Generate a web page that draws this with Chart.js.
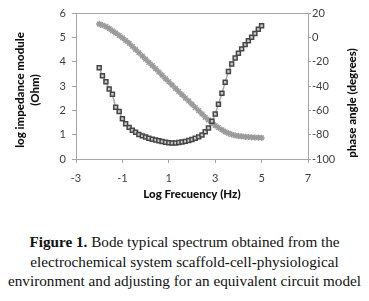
<!DOCTYPE html>
<html>
<head>
<meta charset="utf-8">
<script src="https://cdn.jsdelivr.net/npm/chart.js@4"></script>
<style>
  html, body { margin: 0; padding: 0; background: #fff; }
  body { width: 369px; height: 301px; overflow: hidden; position: relative; }
  #wrap { position: absolute; left: 0; top: 0; width: 369px; height: 205px; }
  #caption {
    position: absolute; left: 0; top: 232px; width: 369px;
    text-align: center; font-family: "Liberation Serif", "Times New Roman", serif;
    font-size: 15.2px; line-height: 19.7px; color: #111; white-space: nowrap;
  }
</style>
</head>
<body>
<div id="wrap"><canvas id="chart" width="369" height="205"></canvas></div>
<div id="caption">
  <b>Figure 1.</b> Bode typical spectrum obtained from the<br>
  electrochemical system scaffold-cell-physiological<br>
  environment and adjusting for an equivalent circuit model
</div>
<script>
// log of frequency (Hz), one value per measured point
const logFreq = [
  -2, -1.86, -1.71, -1.57, -1.43, -1.29, -1.14, -1, -0.86, -0.71,
  -0.57, -0.43, -0.29, -0.14, 0, 0.14, 0.29, 0.43, 0.57, 0.71,
  0.86, 1, 1.14, 1.29, 1.43, 1.57, 1.71, 1.86, 2, 2.14,
  2.29, 2.43, 2.57, 2.71, 2.86, 3, 3.14, 3.29, 3.43, 3.57,
  3.71, 3.86, 4, 4.14, 4.29, 4.43, 4.57, 4.71, 4.86, 5
];

// log impedance module (Ohm) - left axis
const logImpedance = [
  5.55, 5.5, 5.44, 5.36, 5.27, 5.18, 5.08, 4.98, 4.87, 4.76,
  4.63, 4.5, 4.37, 4.23, 4.1, 3.97, 3.84, 3.71, 3.58, 3.44,
  3.3, 3.17, 3.04, 2.9, 2.77, 2.64, 2.51, 2.38, 2.25, 2.12,
  1.98, 1.85, 1.72, 1.6, 1.48, 1.38, 1.29, 1.2, 1.12, 1.06,
  1.01, 0.97, 0.95, 0.93, 0.91, 0.9, 0.89, 0.88, 0.88, 0.87
];

// phase angle (degrees) - right axis
const phaseAngle = [
  -25, -31.5, -36.5, -42.5, -46.8, -57.5, -61, -67, -71, -74,
  -76.3, -78, -79.8, -81, -82, -83, -83.8, -84.4, -85, -85.6,
  -86.2, -86.6, -86.8, -86.8, -86.5, -86, -85.5, -84.8, -84, -83,
  -81.8, -80.2, -77.6, -74.5, -69, -63, -55, -46, -37, -28,
  -22, -17, -13, -9.5, -6, -2.8, 0, 3.2, 6.6, 9.5
];

const leftTitle = ["log impedance module", "(Ohm)"];
const rightTitle = "phase angle (degrees)";
const xTitle = "Log Frecuency (Hz)";

const tickFont = { family: "Lato, 'Open Sans', sans-serif", size: 11 };
const titleFont = "900 11.5px Lato, 'Open Sans', sans-serif";
const axisGray = "#a6a6a6";
const textGray = "#404040";

const toPoints = ys => logFreq.map((x, i) => ({ x: x, y: ys[i] }));

// frame line on top of the plot area + the axis titles
const framePlugin = {
  id: "frame",
  afterDraw(chart) {
    const { ctx, chartArea: a } = chart;
    ctx.save();
    ctx.strokeStyle = axisGray;
    ctx.lineWidth = 1;
    ctx.beginPath();
    ctx.moveTo(a.left, a.top + 0.5);
    ctx.lineTo(a.right, a.top + 0.5);
    ctx.stroke();

    ctx.fillStyle = "#111";
    ctx.font = titleFont;
    ctx.textAlign = "center";
    ctx.textBaseline = "middle";

    ctx.save();
    ctx.translate(20, 90);
    ctx.rotate(-Math.PI / 2);
    ctx.fillText(leftTitle[0], 0, 0);
    ctx.fillText(leftTitle[1], 0, 15);
    ctx.restore();

    ctx.save();
    ctx.translate(352, 103);
    ctx.rotate(-Math.PI / 2);
    ctx.fillText(rightTitle, 0, 0);
    ctx.restore();

    ctx.fillText(xTitle, 192, 194);
    ctx.restore();
  },
};

new Chart(document.getElementById("chart"), {
  type: "scatter",
  data: {
    datasets: [
      {
        label: "phase angle",
        data: toPoints(phaseAngle),
        yAxisID: "y1",
        showLine: true,
        borderColor: "#a8a8a8",
        borderWidth: 1.5,
        pointStyle: "rect",
        pointRadius: 2.8,
        pointBorderWidth: 1.5,
        pointBorderColor: "#464646",
        pointBackgroundColor: "#c9c9c9",
      },
      {
        label: "log impedance",
        data: toPoints(logImpedance),
        yAxisID: "y",
        showLine: true,
        borderColor: "#c4c4c4",
        borderWidth: 1.5,
        pointStyle: "star",
        pointRadius: 3.2,
        pointBorderWidth: 1.4,
        pointBorderColor: "#9a9a9a",
        pointBackgroundColor: "#d0d0d0",
      },
    ],
  },
  options: {
    responsive: false,
    animation: false,
    layout: { padding: { top: 13, left: 0, right: 0, bottom: 0 } },
    plugins: { legend: { display: false }, tooltip: { enabled: false } },
    scales: {
      x: {
        type: "linear",
        min: -3,
        max: 7,
        ticks: { stepSize: 2, color: textGray, font: tickFont, padding: 9, maxRotation: 0 },
        grid: { drawOnChartArea: false, drawTicks: true, tickLength: 4, color: axisGray },
        border: { color: axisGray },
        afterFit: s => { s.height = 46; },
      },
      y: {
        position: "left",
        min: 0,
        max: 6,
        ticks: { stepSize: 1, color: textGray, font: tickFont, padding: 6 },
        grid: { drawOnChartArea: false, drawTicks: true, tickLength: 4, color: axisGray },
        border: { color: axisGray },
        afterFit: s => { s.width = 76; },
      },
      y1: {
        position: "right",
        min: -100,
        max: 20,
        ticks: { stepSize: 20, color: textGray, font: tickFont, padding: 1 },
        grid: { drawOnChartArea: false, drawTicks: true, tickLength: 3, color: axisGray },
        border: { color: axisGray },
        afterFit: s => { s.width = 61; },
      },
    },
  },
  plugins: [framePlugin],
});
</script>
</body>
</html>
